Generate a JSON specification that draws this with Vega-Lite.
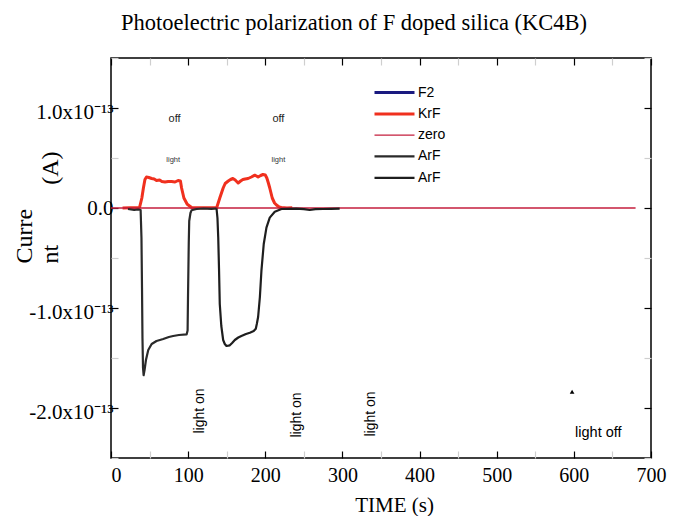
{
  "$schema": "https://vega.github.io/schema/vega-lite/v6.json",
  "width": 540,
  "height": 400,
  "autosize": {"type": "none"},
  "padding": {"left": 111, "top": 58, "right": 32, "bottom": 58},
  "background": "white",
  "config": {"view": {"stroke": "black", "strokeWidth": 1.5}, "font": "Liberation Serif"},
  "title": {"text": "Photoelectric polarization of F doped silica (KC4B)", "font": "Liberation Serif", "fontSize": 22.5, "fontWeight": "normal", "color": "black", "anchor": "middle", "frame": "group", "dx": -27, "offset": 17},
  "datasets": {
    "curves": [
      {"series": "zero", "time": 0, "current": 0},
      {"series": "zero", "time": 680, "current": 0},
      {"series": "KrF", "time": 15, "current": 0},
      {"series": "KrF", "time": 25, "current": 0.003},
      {"series": "KrF", "time": 37, "current": 0.005},
      {"series": "KrF", "time": 40, "current": 0.1},
      {"series": "KrF", "time": 42, "current": 0.2},
      {"series": "KrF", "time": 44, "current": 0.285},
      {"series": "KrF", "time": 46, "current": 0.31},
      {"series": "KrF", "time": 49, "current": 0.305},
      {"series": "KrF", "time": 52.7, "current": 0.295},
      {"series": "KrF", "time": 56, "current": 0.29},
      {"series": "KrF", "time": 59, "current": 0.275},
      {"series": "KrF", "time": 63, "current": 0.28},
      {"series": "KrF", "time": 66, "current": 0.265},
      {"series": "KrF", "time": 70, "current": 0.26},
      {"series": "KrF", "time": 74, "current": 0.265},
      {"series": "KrF", "time": 78.5, "current": 0.265},
      {"series": "KrF", "time": 83, "current": 0.26},
      {"series": "KrF", "time": 87, "current": 0.275},
      {"series": "KrF", "time": 90, "current": 0.27},
      {"series": "KrF", "time": 91.5, "current": 0.2},
      {"series": "KrF", "time": 94.5, "current": 0.1},
      {"series": "KrF", "time": 98.8, "current": 0.037},
      {"series": "KrF", "time": 104.5, "current": 0.005},
      {"series": "KrF", "time": 115, "current": 0.003},
      {"series": "KrF", "time": 125, "current": 0.002},
      {"series": "KrF", "time": 137, "current": 0.003},
      {"series": "KrF", "time": 141, "current": 0.1},
      {"series": "KrF", "time": 145.4, "current": 0.2},
      {"series": "KrF", "time": 148, "current": 0.245},
      {"series": "KrF", "time": 152, "current": 0.27},
      {"series": "KrF", "time": 155, "current": 0.285},
      {"series": "KrF", "time": 158, "current": 0.295},
      {"series": "KrF", "time": 161, "current": 0.28},
      {"series": "KrF", "time": 164.8, "current": 0.25},
      {"series": "KrF", "time": 168, "current": 0.27},
      {"series": "KrF", "time": 171, "current": 0.285},
      {"series": "KrF", "time": 174, "current": 0.29},
      {"series": "KrF", "time": 177.7, "current": 0.295},
      {"series": "KrF", "time": 182, "current": 0.31},
      {"series": "KrF", "time": 186.4, "current": 0.328},
      {"series": "KrF", "time": 188.5, "current": 0.32},
      {"series": "KrF", "time": 190.7, "current": 0.31},
      {"series": "KrF", "time": 194, "current": 0.325},
      {"series": "KrF", "time": 197, "current": 0.335},
      {"series": "KrF", "time": 200, "current": 0.33},
      {"series": "KrF", "time": 202, "current": 0.3},
      {"series": "KrF", "time": 204, "current": 0.25},
      {"series": "KrF", "time": 205.8, "current": 0.2},
      {"series": "KrF", "time": 209, "current": 0.1},
      {"series": "KrF", "time": 212, "current": 0.05},
      {"series": "KrF", "time": 214.5, "current": 0.03},
      {"series": "KrF", "time": 218, "current": 0.01},
      {"series": "KrF", "time": 221, "current": 0.005},
      {"series": "KrF", "time": 228, "current": 0},
      {"series": "KrF", "time": 235, "current": 0.003},
      {"series": "ArF1", "time": 22, "current": -0.01},
      {"series": "ArF1", "time": 30, "current": -0.02},
      {"series": "ArF1", "time": 35, "current": -0.015},
      {"series": "ArF1", "time": 38.4, "current": -0.02},
      {"series": "ArF1", "time": 39.5, "current": -0.3},
      {"series": "ArF1", "time": 40.2, "current": -0.8},
      {"series": "ArF1", "time": 40.8, "current": -1.3},
      {"series": "ArF1", "time": 41.5, "current": -1.6},
      {"series": "ArF1", "time": 42.3, "current": -1.672},
      {"series": "ArF1", "time": 43.5, "current": -1.62},
      {"series": "ArF1", "time": 45.3, "current": -1.52},
      {"series": "ArF1", "time": 48.3, "current": -1.42},
      {"series": "ArF1", "time": 52.7, "current": -1.36},
      {"series": "ArF1", "time": 59, "current": -1.33},
      {"series": "ArF1", "time": 67.7, "current": -1.31},
      {"series": "ArF1", "time": 75, "current": -1.29},
      {"series": "ArF1", "time": 80.6, "current": -1.28},
      {"series": "ArF1", "time": 88, "current": -1.27},
      {"series": "ArF1", "time": 98, "current": -1.264},
      {"series": "ArF1", "time": 99.3, "current": -1.224},
      {"series": "ArF1", "time": 99.8, "current": -0.9},
      {"series": "ArF1", "time": 100.3, "current": -0.627},
      {"series": "ArF1", "time": 100.8, "current": -0.35},
      {"series": "ArF1", "time": 101.4, "current": -0.13},
      {"series": "ArF1", "time": 103, "current": -0.05},
      {"series": "ArF1", "time": 104.4, "current": -0.023},
      {"series": "ArF1", "time": 111, "current": -0.01},
      {"series": "ArF1", "time": 120, "current": -0.005},
      {"series": "ArF1", "time": 130, "current": -0.008},
      {"series": "ArF1", "time": 136.8, "current": -0.005},
      {"series": "ArF2", "time": 136.8, "current": -0.005},
      {"series": "ArF2", "time": 138, "current": -0.1},
      {"series": "ArF2", "time": 139, "current": -0.295},
      {"series": "ArF2", "time": 140, "current": -0.6},
      {"series": "ArF2", "time": 141, "current": -0.96},
      {"series": "ArF2", "time": 143, "current": -1.18},
      {"series": "ArF2", "time": 145.4, "current": -1.32},
      {"series": "ArF2", "time": 147.5, "current": -1.36},
      {"series": "ArF2", "time": 149.7, "current": -1.38},
      {"series": "ArF2", "time": 154, "current": -1.373},
      {"series": "ArF2", "time": 157, "current": -1.35},
      {"series": "ArF2", "time": 160.5, "current": -1.32},
      {"series": "ArF2", "time": 165, "current": -1.295},
      {"series": "ArF2", "time": 169, "current": -1.28},
      {"series": "ArF2", "time": 175, "current": -1.26},
      {"series": "ArF2", "time": 180, "current": -1.247},
      {"series": "ArF2", "time": 185, "current": -1.23},
      {"series": "ArF2", "time": 187.7, "current": -1.207},
      {"series": "ArF2", "time": 189, "current": -1.16},
      {"series": "ArF2", "time": 190.7, "current": -1.09},
      {"series": "ArF2", "time": 193, "current": -0.89},
      {"series": "ArF2", "time": 195, "current": -0.627},
      {"series": "ArF2", "time": 198, "current": -0.36},
      {"series": "ArF2", "time": 201.5, "current": -0.196},
      {"series": "ArF2", "time": 205.8, "current": -0.096},
      {"series": "ArF2", "time": 212.3, "current": -0.037},
      {"series": "ArF2", "time": 221, "current": -0.01},
      {"series": "ArF2", "time": 230, "current": -0.008},
      {"series": "ArF2", "time": 240, "current": -0.006},
      {"series": "ArF2", "time": 250, "current": -0.012},
      {"series": "ArF2", "time": 257.6, "current": -0.02},
      {"series": "ArF2", "time": 265, "current": -0.012},
      {"series": "ArF2", "time": 274.8, "current": -0.01},
      {"series": "ArF2", "time": 285, "current": -0.008},
      {"series": "ArF2", "time": 296.4, "current": -0.006}
    ],
    "notes": [
      {"kind": "off", "time": 82.4, "current": 0.886, "note": "off"},
      {"kind": "off", "time": 217, "current": 0.886, "note": "off"},
      {"kind": "light", "time": 80.6, "current": 0.478, "note": "light"},
      {"kind": "light", "time": 217, "current": 0.478, "note": "light"},
      {"kind": "on", "time": 115.9, "current": -2.03, "note": "light on"},
      {"kind": "on", "time": 240.8, "current": -2.07, "note": "light on"},
      {"kind": "on", "time": 336.6, "current": -2.06, "note": "light on"},
      {"kind": "lightoff", "time": 631.7, "current": -2.254, "note": "light off"}
    ],
    "markers": [
      {"time": 597.7, "current": -1.838}
    ]
  },
  "layer": [
    {
      "data": {"name": "curves"},
      "encoding": {
        "x": {
          "field": "time", "type": "quantitative",
          "scale": {"domain": [0, 700], "nice": false, "zero": false},
          "axis": {
            "orient": "bottom",
            "values": [0, 50, 100, 150, 200, 250, 300, 350, 400, 450, 500, 550, 600, 650, 700],
            "domain": false, "grid": false,
            "tickSize": -7,
            "tickWidth": 1.2,
            "tickColor": {"condition": {"test": "datum.value % 100 !== 0", "value": "#cfcfcf"}, "value": "black"},
            "labelExpr": "datum.value % 100 === 0 ? datum.label : ''",
            "labelAlign": {"condition": {"test": "datum.value === 0", "value": "left"}, "value": "center"},
            "labelFont": "Liberation Serif", "labelFontSize": 20, "labelColor": "black",
            "labelPadding": 14, "labelOverlap": false, "labelFlush": false,
            "title": "TIME (s)", "titleFont": "Liberation Serif", "titleFontSize": 21,
            "titleFontWeight": "normal", "titleColor": "black", "titlePadding": 9, "titleX": 283
          }
        },
        "y": {
          "field": "current", "type": "quantitative",
          "scale": {"domain": [-2.5, 1.5], "nice": false, "zero": false},
          "axis": {
            "orient": "left",
            "values": [-2.5, -2, -1.5, -1, -0.5, 0, 0.5, 1, 1.5],
            "domain": false, "grid": false,
            "tickSize": -7,
            "tickWidth": 1.2,
            "tickColor": {"condition": {"test": "abs(datum.value % 1) > 0.1", "value": "#cfcfcf"}, "value": "black"},
            "labelExpr": "abs(datum.value % 1) > 0.1 ? '' : (datum.value === 0 ? '0.0' : (datum.value < 0 ? '-' : '') + format(abs(datum.value), '.1f') + 'x10⁻¹³')",
            "labelFont": "Liberation Serif", "labelFontSize": 21, "labelColor": "black",
            "labelPadding": 5,
            "labelOffset": {"condition": {"test": "datum.value === 0", "value": 0}, "value": 4},
            "labelOverlap": false, "labelFlush": false,
            "title": ["Curre", "nt\u00a0\u00a0\u00a0\u00a0\u00a0\u00a0\u00a0\u00a0\u00a0\u00a0(A)"],
            "titleFont": "Liberation Serif", "titleFontSize": 24, "titleFontWeight": "normal",
            "titleColor": "black", "titleAlign": "left", "titleBaseline": "top",
            "titleAngle": 270, "titleX": -99, "titleY": 205, "titleLineHeight": 26
          }
        },
        "color": {
          "field": "series", "type": "nominal",
          "scale": {"domain": ["F2", "KrF", "zero", "ArF1", "ArF2"], "range": ["#1a1a80", "#f0301e", "#c41e3c", "#2a2a2a", "#1e1e1e"]},
          "legend": {
            "orient": "none", "legendX": 272, "legendY": 23, "title": null,
            "symbolType": "M-2,0H2", "symbolSize": 400,
            "labelFont": "Liberation Sans", "labelFontSize": 14, "labelColor": "black",
            "labelExpr": "datum.label === 'ArF1' || datum.label === 'ArF2' ? 'ArF' : datum.label",
            "labelOffset": 12, "rowPadding": 2.6
          }
        },
        "strokeWidth": {
          "field": "series", "type": "nominal",
          "scale": {"type": "ordinal", "domain": ["F2", "KrF", "zero", "ArF1", "ArF2"], "range": [3, 3, 1.3, 2.2, 2.2]},
          "legend": {
            "orient": "none", "legendX": 272, "legendY": 23, "title": null,
            "symbolType": "M-2,0H2", "symbolSize": 400,
            "labelFont": "Liberation Sans", "labelFontSize": 14, "labelColor": "black",
            "labelExpr": "datum.label === 'ArF1' || datum.label === 'ArF2' ? 'ArF' : datum.label",
            "labelOffset": 12, "rowPadding": 2.6
          }
        }
      },
      "layer": [
        {
          "transform": [{"filter": "datum.series === 'KrF'"}],
          "mark": {"type": "line", "strokeCap": "butt", "strokeJoin": "round"}
        },
        {
          "transform": [{"filter": "datum.series === 'zero'"}],
          "mark": {"type": "line", "strokeCap": "butt"}
        },
        {
          "transform": [{"filter": "datum.series === 'ArF1' || datum.series === 'ArF2'"}],
          "mark": {"type": "line", "strokeCap": "butt", "strokeJoin": "round"}
        }
      ]
    },
    {
      "data": {"name": "notes"},
      "transform": [{"filter": "datum.kind === 'off'"}],
      "mark": {"type": "text", "font": "Liberation Sans", "fontSize": 11, "color": "#222", "align": "center", "baseline": "middle"},
      "encoding": {
        "x": {
          "field": "time", "type": "quantitative",
          "axis": {
            "orient": "top", "values": [0, 50, 100, 150, 200, 250, 300, 350, 400, 450, 500, 550, 600, 650, 700],
            "domain": false, "grid": false, "labels": false, "title": null,
            "tickSize": -7, "tickWidth": 1.2,
            "tickColor": {"condition": {"test": "datum.value % 100 !== 0", "value": "#cfcfcf"}, "value": "black"}
          }
        },
        "y": {
          "field": "current", "type": "quantitative",
          "axis": {
            "orient": "right", "values": [-2.5, -2, -1.5, -1, -0.5, 0, 0.5, 1, 1.5],
            "domain": false, "grid": false, "labels": false, "title": null,
            "tickSize": -7, "tickWidth": 1.2,
            "tickColor": {"condition": {"test": "abs(datum.value % 1) > 0.1", "value": "#cfcfcf"}, "value": "black"}
          }
        },
        "text": {"field": "note"}
      }
    },
    {
      "data": {"name": "notes"},
      "transform": [{"filter": "datum.kind === 'light'"}],
      "mark": {"type": "text", "font": "Liberation Sans", "fontSize": 7.5, "color": "#333", "align": "center", "baseline": "middle"},
      "encoding": {
        "x": {"field": "time", "type": "quantitative", "axis": null},
        "y": {"field": "current", "type": "quantitative", "axis": null},
        "text": {"field": "note"}
      }
    },
    {
      "data": {"name": "notes"},
      "transform": [{"filter": "datum.kind === 'on'"}],
      "mark": {"type": "text", "font": "Liberation Sans", "fontSize": 14, "color": "black", "align": "center", "baseline": "middle", "angle": 270},
      "encoding": {
        "x": {"field": "time", "type": "quantitative", "axis": null},
        "y": {"field": "current", "type": "quantitative", "axis": null},
        "text": {"field": "note"}
      }
    },
    {
      "data": {"name": "notes"},
      "transform": [{"filter": "datum.kind === 'lightoff'"}],
      "mark": {"type": "text", "font": "Liberation Sans", "fontSize": 14.5, "color": "black", "align": "center", "baseline": "middle"},
      "encoding": {
        "x": {"field": "time", "type": "quantitative", "axis": null},
        "y": {"field": "current", "type": "quantitative", "axis": null},
        "text": {"field": "note"}
      }
    },
    {
      "data": {"name": "markers"},
      "mark": {"type": "point", "shape": "triangle-up", "filled": true, "color": "black", "size": 22, "opacity": 1},
      "encoding": {
        "x": {"field": "time", "type": "quantitative", "axis": null},
        "y": {"field": "current", "type": "quantitative", "axis": null}
      }
    }
  ],
  "resolve": {"axis": {"x": "independent", "y": "independent"}}
}
